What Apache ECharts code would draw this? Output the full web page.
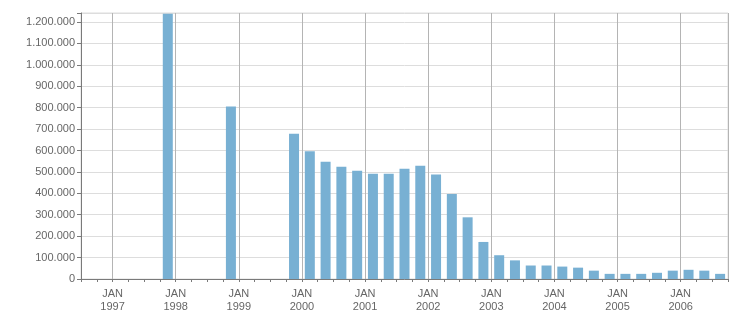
<!DOCTYPE html>
<html>
<head>
<meta charset="utf-8">
<script src="https://cdn.jsdelivr.net/npm/echarts@6/dist/echarts.min.js"></script>
<style>
html,body{margin:0;padding:0;background:#fff;}
#chart{width:751px;height:313px;}
</style>
</head>
<body>
<div id="chart"></div>
<script>
// Quarterly categories (bars are centred in each quarter)
const quarters = [
  '1996 Q3','1996 Q4',
  '1997 Q1','1997 Q2','1997 Q3','1997 Q4',
  '1998 Q1','1998 Q2','1998 Q3','1998 Q4',
  '1999 Q1','1999 Q2','1999 Q3','1999 Q4',
  '2000 Q1','2000 Q2','2000 Q3','2000 Q4',
  '2001 Q1','2001 Q2','2001 Q3','2001 Q4',
  '2002 Q1','2002 Q2','2002 Q3','2002 Q4',
  '2003 Q1','2003 Q2','2003 Q3','2003 Q4',
  '2004 Q1','2004 Q2','2004 Q3','2004 Q4',
  '2005 Q1','2005 Q2','2005 Q3','2005 Q4',
  '2006 Q1','2006 Q2','2006 Q3'
];
// Values per quarter
const values = [
  null, null,
  null, null, null, 1238000,
  null, null, null, 806000,
  null, null, null, 678000,
  597000, 547000, 524000, 506000,
  492000, 492000, 515000, 529000,
  488000, 397000, 288000, 173000,
  111000, 87000, 63000, 63000,
  58000, 53000, 39000, 24000,
  24000, 24000, 29000, 39000,
  43000, 39000, 24000
];
// Quarter boundaries (tick positions); labels shown at JAN
const tickLabels = [
  'JUL 1996','OCT 1996',
  'JAN 1997','APR 1997','JUL 1997','OCT 1997',
  'JAN 1998','APR 1998','JUL 1998','OCT 1998',
  'JAN 1999','APR 1999','JUL 1999','OCT 1999',
  'JAN 2000','APR 2000','JUL 2000','OCT 2000',
  'JAN 2001','APR 2001','JUL 2001','OCT 2001',
  'JAN 2002','APR 2002','JUL 2002','OCT 2002',
  'JAN 2003','APR 2003','JUL 2003','OCT 2003',
  'JAN 2004','APR 2004','JUL 2004','OCT 2004',
  'JAN 2005','APR 2005','JUL 2005','OCT 2005',
  'JAN 2006','APR 2006','JUL 2006','OCT 2006'
];
const yMax = 1242000;
const yStep = 100000;

function fmtThousands(v){
  return String(v).replace(/\B(?=(\d{3})+(?!\d))/g, '.');
}

const FONT = '"Liberation Sans", Arial, sans-serif';
const chart = echarts.init(document.getElementById('chart'), null, {renderer:'canvas'});
chart.setOption({
  animation: false,
  grid: {left: 81, top: 13, right: 23, bottom: 33, show: true, borderColor: '#dddddd', borderWidth: 1, backgroundColor: 'transparent'},
  xAxis: [
    {
      type: 'category',
      data: quarters,
      boundaryGap: true,
      position: 'bottom',
      axisLine: {show: true, lineStyle: {color: '#7a7a7a', width: 1}},
      axisTick: {show: true, interval: 0, length: 3, lineStyle: {color: '#7a7a7a'}},
      axisLabel: {show: false},
      splitLine: {
        show: true,
        interval: function (idx, val) { return /Q1$/.test(val); },
        lineStyle: {color: '#b4b4b4', width: 1}
      },
      z: 5
    },
    {
      type: 'category',
      data: tickLabels,
      boundaryGap: false,
      position: 'bottom',
      axisLine: {show: false},
      axisTick: {show: false},
      splitLine: {show: false},
      axisLabel: {
        show: true,
        interval: 0,
        margin: 8,
        color: '#666666',
        fontFamily: FONT,
        fontSize: 11,
        lineHeight: 13,
        formatter: function (v) { return v.indexOf('JAN') === 0 ? v.replace(' ', '\n') : ''; }
      }
    }
  ],
  yAxis: {
    type: 'value',
    min: 0,
    max: yMax,
    interval: yStep,
    axisLine: {show: true, lineStyle: {color: '#7a7a7a', width: 1}},
    axisTick: {show: true, length: 4, lineStyle: {color: '#7a7a7a'}},
    axisLabel: {
      margin: 6,
      color: '#666666',
      fontFamily: FONT,
      fontSize: 11,
      formatter: function (v) { return v % yStep === 0 ? fmtThousands(v) : ''; }
    },
    splitLine: {show: true, lineStyle: {color: '#dddddd', width: 1}}
  },
  series: [{
    type: 'bar',
    xAxisIndex: 0,
    data: values,
    barWidth: 10,
    itemStyle: {color: '#78b0d3'},
    clip: true
  }]
});
</script>
</body>
</html>
